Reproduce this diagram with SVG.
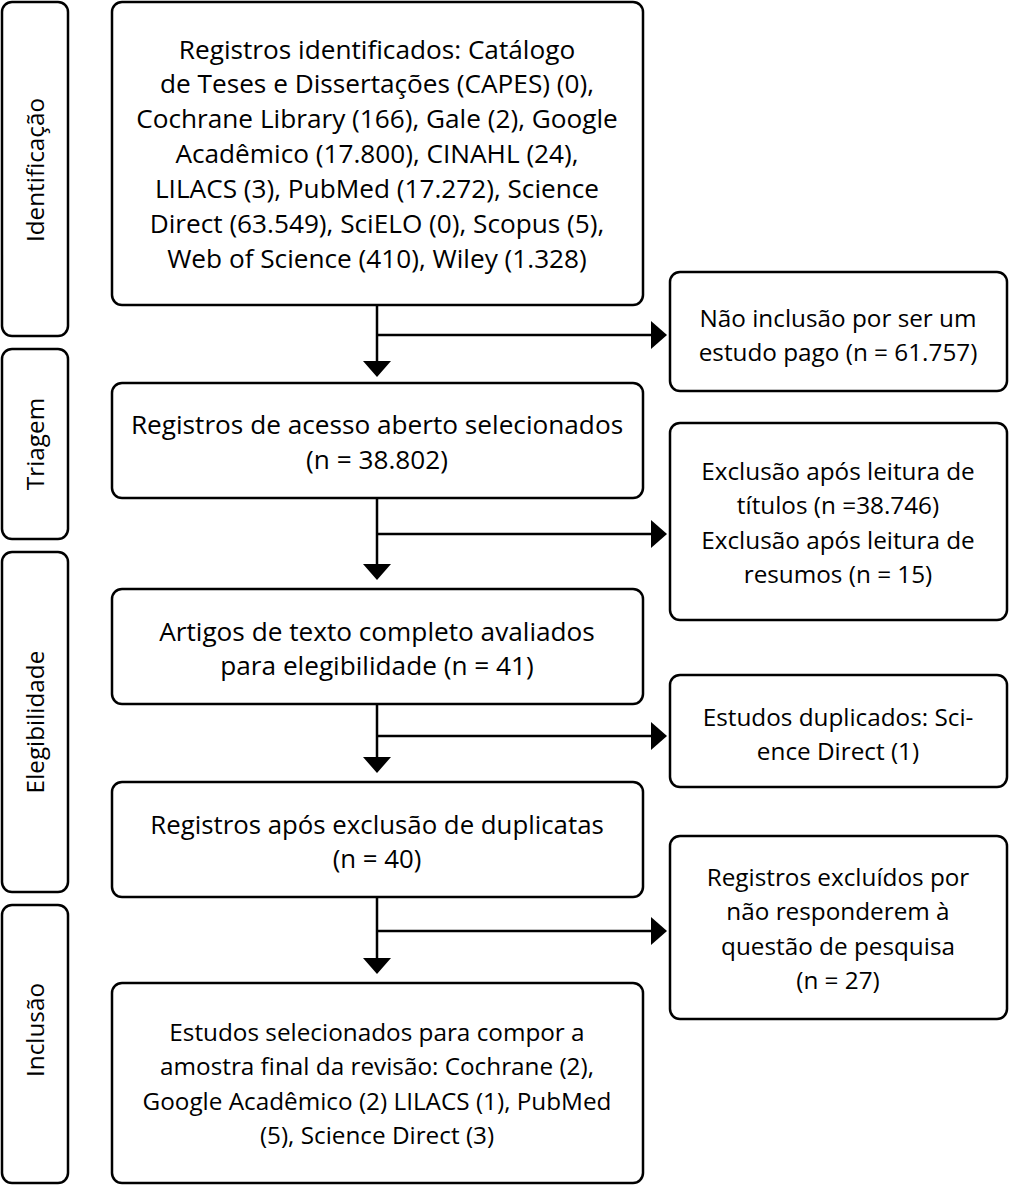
<svg xmlns="http://www.w3.org/2000/svg" width="1009" height="1186" viewBox="0 0 1009 1186">
<defs>
<style>
.box{fill:#fff;stroke:#000;stroke-width:2.5}
.t{font-family:"Open Sans","Noto Sans",sans-serif;font-size:24.3px;fill:#000;text-anchor:middle}
.m{font-size:26.2px}
.ln{stroke:#000;stroke-width:2.5;fill:none}
.ah{fill:#000}
</style>
</defs>
<rect width="1009" height="1186" fill="#fff"/>
<g id="phase-identificacao"><rect class="box" x="2" y="2" width="66" height="334" rx="10"/><text class="t" transform="translate(44,170) rotate(-90)">Identificação</text></g>
<g id="phase-triagem"><rect class="box" x="2" y="349" width="66" height="190" rx="10"/><text class="t" transform="translate(44,444) rotate(-90)">Triagem</text></g>
<g id="phase-elegibilidade"><rect class="box" x="2" y="552" width="66" height="340" rx="10"/><text class="t" transform="translate(44,722) rotate(-90)">Elegibilidade</text></g>
<g id="phase-inclusao"><rect class="box" x="2" y="905" width="66" height="278" rx="10"/><text class="t" transform="translate(44,1030) rotate(-90)">Inclusão</text></g>

<g id="n1"><rect class="box" x="112" y="2" width="531" height="303" rx="10"/>
<text class="t m"><tspan x="377" y="59">Registros identificados: Catálogo</tspan><tspan x="377" y="93">de Teses e Dissertações (CAPES) (0),</tspan><tspan x="377" y="128">Cochrane Library (166), Gale (2), Google</tspan><tspan x="377" y="163">Acadêmico (17.800), CINAHL (24),</tspan><tspan x="377" y="198">LILACS (3), PubMed (17.272), Science</tspan><tspan x="377" y="233">Direct (63.549), SciELO (0), Scopus (5),</tspan><tspan x="377" y="268">Web of Science (410), Wiley (1.328)</tspan></text></g>
<g id="n2"><rect class="box" x="112" y="383" width="531" height="115" rx="10"/>
<text class="t m"><tspan x="377" y="434">Registros de acesso aberto selecionados</tspan><tspan x="377" y="469">(n = 38.802)</tspan></text></g>
<g id="n3"><rect class="box" x="112" y="589" width="531" height="115" rx="10"/>
<text class="t m"><tspan x="377" y="641">Artigos de texto completo avaliados</tspan><tspan x="377" y="675">para elegibilidade (n = 41)</tspan></text></g>
<g id="n4"><rect class="box" x="112" y="782" width="531" height="115" rx="10"/>
<text class="t" style="font-size:25.8px"><tspan x="377" y="834">Registros após exclusão de duplicatas</tspan><tspan x="377" y="868">(n = 40)</tspan></text></g>
<g id="n5"><rect class="box" x="112" y="983" width="531" height="200" rx="10"/>
<text class="t"><tspan x="377" y="1041">Estudos selecionados para compor a</tspan><tspan x="377" y="1075">amostra final da revisão: Cochrane (2),</tspan><tspan x="377" y="1110">Google Acadêmico (2) LILACS (1), PubMed</tspan><tspan x="377" y="1144">(5), Science Direct (3)</tspan></text></g>

<g id="r1"><rect class="box" x="670" y="272" width="337" height="119" rx="10"/>
<text class="t"><tspan x="838" y="327">Não inclusão por ser um</tspan><tspan x="838" y="361">estudo pago (n = 61.757)</tspan></text></g>
<g id="r2"><rect class="box" x="670" y="423" width="337" height="197" rx="10"/>
<text class="t"><tspan x="838" y="480">Exclusão após leitura de</tspan><tspan x="838" y="514">títulos (n =38.746)</tspan><tspan x="838" y="549">Exclusão após leitura de</tspan><tspan x="838" y="583">resumos (n = 15)</tspan></text></g>
<g id="r3"><rect class="box" x="670" y="675" width="337" height="112" rx="10"/>
<text class="t"><tspan x="838" y="726">Estudos duplicados: Sci-</tspan><tspan x="838" y="760">ence Direct (1)</tspan></text></g>
<g id="r4"><rect class="box" x="670" y="836" width="337" height="183" rx="10"/>
<text class="t"><tspan x="838" y="886">Registros excluídos por</tspan><tspan x="838" y="920">não responderem à</tspan><tspan x="838" y="955">questão de pesquisa</tspan><tspan x="838" y="989">(n = 27)</tspan></text></g>

<g id="connectors">
<path class="ln" d="M377 305V362M377 335H652"/>
<path class="ah" d="M363 361H391L377 377Z"/><path class="ah" d="M651 321V349L667 335Z"/>
<path class="ln" d="M377 498V565M377 534H652"/>
<path class="ah" d="M363 564H391L377 580Z"/><path class="ah" d="M651 520V548L667 534Z"/>
<path class="ln" d="M377 704V758M377 736H652"/>
<path class="ah" d="M363 757H391L377 773Z"/><path class="ah" d="M651 722V750L667 736Z"/>
<path class="ln" d="M377 897V959M377 931H652"/>
<path class="ah" d="M363 958H391L377 974Z"/><path class="ah" d="M651 917V945L667 931Z"/>
</g>
</svg>
